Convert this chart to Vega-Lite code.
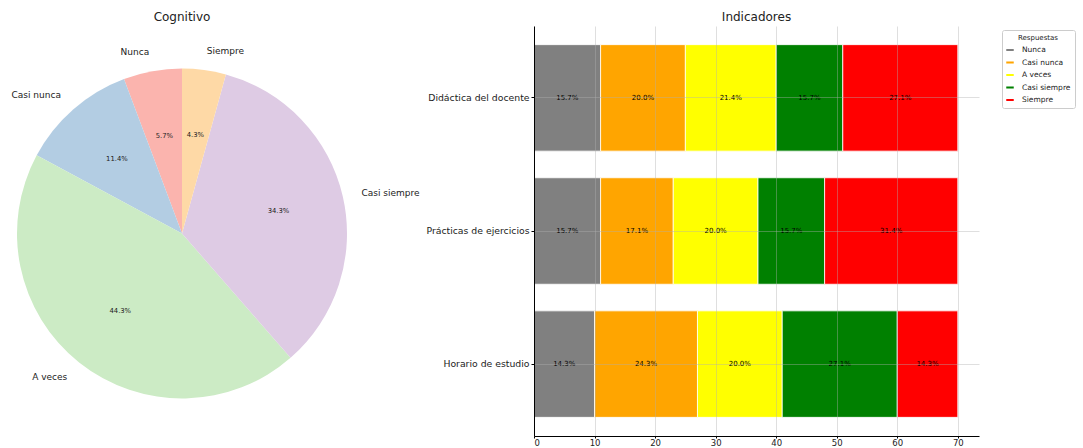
{
  "$schema": "https://vega.github.io/schema/vega-lite/v6.json",
  "padding": {"left": 0, "top": 11, "right": 5, "bottom": 0},
  "spacing": 170,
  "bounds": "flush",
  "config": {
    "font": "DejaVu Sans",
    "view": {"stroke": null},
    "title": {"fontSize": 12, "fontWeight": "normal", "color": "#222", "offset": 2}
  },
  "resolve": {"scale": {"color": "independent"}, "legend": {"color": "independent"}},
  "hconcat": [
    {
      "width": 364,
      "height": 415,
      "title": {"text": "Cognitivo", "anchor": "middle"},
      "data": {"values": [
        {"resp": "Nunca", "k": 1, "n": 4, "pct": 0.0571},
        {"resp": "Casi nunca", "k": 2, "n": 8, "pct": 0.1143},
        {"resp": "A veces", "k": 3, "n": 31, "pct": 0.4429},
        {"resp": "Casi siempre", "k": 4, "n": 24, "pct": 0.3429},
        {"resp": "Siempre", "k": 5, "n": 3, "pct": 0.0429}
      ]},
      "layer": [
        {
          "mark": {"type": "arc", "outerRadius": 165},
          "encoding": {
            "theta": {"field": "n", "type": "quantitative", "stack": true},
            "order": {"field": "k", "sort": "descending"},
            "color": {"field": "resp", "type": "nominal", "legend": null,
              "scale": {"domain": ["Nunca", "Casi nunca", "A veces", "Casi siempre", "Siempre"],
                        "range": ["#fbb4ae", "#b3cde3", "#ccebc5", "#decbe4", "#fed9a6"]}}
          }
        },
        {
          "mark": {"type": "text", "radius": 99, "fontSize": 6.8, "color": "#222", "baseline": "middle", "align": "center"},
          "encoding": {
            "theta": {"field": "n", "type": "quantitative", "stack": true},
            "order": {"field": "k", "sort": "descending"},
            "text": {"field": "pct", "type": "quantitative", "format": ".1%"}
          }
        },
        {
          "mark": {"type": "text", "radius": 184, "fontSize": 9, "color": "#222", "baseline": "middle",
                   "align": {"expr": "datum.k <= 3 ? 'right' : 'left'"}},
          "encoding": {
            "theta": {"field": "n", "type": "quantitative", "stack": true},
            "order": {"field": "k", "sort": "descending"},
            "text": {"field": "resp", "type": "nominal"}
          }
        }
      ]
    },
    {
      "width": 445,
      "height": 410,
      "title": {"text": "Indicadores", "anchor": "middle"},
      "data": {"values": [
        {"ind": "Didáctica del docente", "resp": "Nunca", "k": 1, "n": 11, "pct": 0.1571},
        {"ind": "Didáctica del docente", "resp": "Casi nunca", "k": 2, "n": 14, "pct": 0.2},
        {"ind": "Didáctica del docente", "resp": "A veces", "k": 3, "n": 15, "pct": 0.2143},
        {"ind": "Didáctica del docente", "resp": "Casi siempre", "k": 4, "n": 11, "pct": 0.1571},
        {"ind": "Didáctica del docente", "resp": "Siempre", "k": 5, "n": 19, "pct": 0.2714},
        {"ind": "Prácticas de ejercicios", "resp": "Nunca", "k": 1, "n": 11, "pct": 0.1571},
        {"ind": "Prácticas de ejercicios", "resp": "Casi nunca", "k": 2, "n": 12, "pct": 0.1714},
        {"ind": "Prácticas de ejercicios", "resp": "A veces", "k": 3, "n": 14, "pct": 0.2},
        {"ind": "Prácticas de ejercicios", "resp": "Casi siempre", "k": 4, "n": 11, "pct": 0.1571},
        {"ind": "Prácticas de ejercicios", "resp": "Siempre", "k": 5, "n": 22, "pct": 0.3143},
        {"ind": "Horario de estudio", "resp": "Nunca", "k": 1, "n": 10, "pct": 0.1429},
        {"ind": "Horario de estudio", "resp": "Casi nunca", "k": 2, "n": 17, "pct": 0.2429},
        {"ind": "Horario de estudio", "resp": "A veces", "k": 3, "n": 14, "pct": 0.2},
        {"ind": "Horario de estudio", "resp": "Casi siempre", "k": 4, "n": 19, "pct": 0.2714},
        {"ind": "Horario de estudio", "resp": "Siempre", "k": 5, "n": 10, "pct": 0.1429}
      ]},
      "transform": [
        {"stack": "n", "groupby": ["ind"], "sort": [{"field": "k", "order": "ascending"}], "as": ["x0", "x1"]},
        {"calculate": "(datum.x0 + datum.x1) / 2", "as": "xm"}
      ],
      "encoding": {
        "y": {"field": "ind", "type": "nominal",
              "sort": ["Didáctica del docente", "Prácticas de ejercicios", "Horario de estudio"],
              "scale": {"paddingInner": 0.2, "paddingOuter": 0.14},
              "axis": {"title": null, "grid": true, "bandPosition": 0.5, "labelFontSize": 9.3, "labelColor": "#222",
                       "tickSize": 3, "tickColor": "#000", "domainColor": "#000", "labelPadding": 2,
                       "gridColor": "#b0b0b0", "gridOpacity": 0.4, "zindex": 1}}
      },
      "layer": [
        {
          "mark": {"type": "bar", "stroke": "white", "strokeWidth": 0.8},
          "encoding": {
            "x": {"field": "x0", "type": "quantitative",
                  "scale": {"domain": [0, 73.5], "nice": false, "zero": true},
                  "axis": {"title": null, "values": [0, 10, 20, 30, 40, 50, 60, 70], "grid": true,
                           "labelFontSize": 8.5, "labelColor": "#222", "tickSize": 2, "tickColor": "#000",
                           "domainColor": "#000", "labelPadding": 0,
                           "gridColor": "#b0b0b0", "gridOpacity": 0.4, "zindex": 1}},
            "x2": {"field": "x1"},
            "color": {"field": "resp", "type": "nominal",
              "scale": {"domain": ["Nunca", "Casi nunca", "A veces", "Casi siempre", "Siempre"],
                        "range": ["#808080", "#ffa500", "#ffff00", "#008000", "#ff0000"]},
              "legend": {"title": "Respuestas", "orient": "none", "legendX": 468, "legendY": 4,
                         "titleFontSize": 7, "titleFontWeight": "normal", "titleColor": "#222", "titleAnchor": "middle",
                         "labelFontSize": 7.5, "labelColor": "#222",
                         "symbolType": "M-1,-0.27H1V0.27H-1Z", "symbolSize": 56, "symbolStrokeWidth": 0,
                         "strokeColor": "#cccccc", "fillColor": "white", "padding": 4, "cornerRadius": 2,
                         "rowPadding": 4.5, "labelOffset": 8, "titlePadding": 5}}
          }
        },
        {
          "mark": {"type": "text", "fontSize": 7, "color": "#000", "baseline": "middle", "align": "center"},
          "encoding": {
            "x": {"field": "xm", "type": "quantitative"},
            "text": {"field": "pct", "type": "quantitative", "format": ".1%"}
          }
        }
      ]
    }
  ]
}
